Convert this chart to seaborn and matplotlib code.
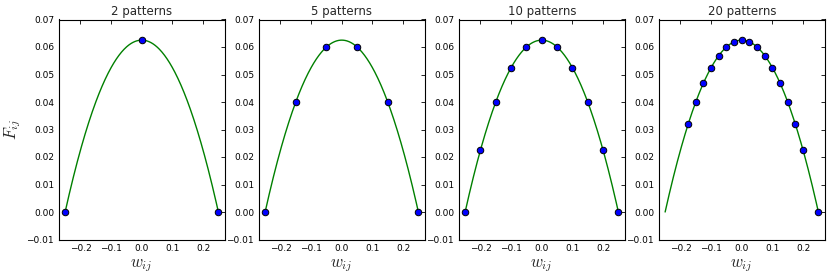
import numpy as np
import pandas as pd
import matplotlib
matplotlib.use("Agg")
import matplotlib.pyplot as plt
import seaborn as sns

titles = ["2 patterns", "5 patterns", "10 patterns", "20 patterns"]

w_2 = [-0.25, 0.0, 0.25]
f_2 = [0.0, 0.0625, 0.0]

w_5 = [-0.25, -0.15, -0.05, 0.05, 0.15, 0.25]
f_5 = [0.0, 0.04, 0.06, 0.06, 0.04, 0.0]

w_10 = [-0.25, -0.2, -0.15, -0.1, -0.05, 0.0, 0.05, 0.1, 0.15, 0.2, 0.25]
f_10 = [0.0, 0.0225, 0.04, 0.0525, 0.06, 0.0625, 0.06, 0.0525, 0.04, 0.0225, 0.0]

w_20 = [-0.175, -0.15, -0.125, -0.1, -0.075, -0.05, -0.025, 0.0, 0.025, 0.05,
        0.075, 0.1, 0.125, 0.15, 0.175, 0.2, 0.25]
f_20 = [0.0319, 0.04, 0.0469, 0.0525, 0.0569, 0.06, 0.0619, 0.0625, 0.0619, 0.06,
        0.0569, 0.0525, 0.0469, 0.04, 0.0319, 0.0225, 0.0]

# parabola coefficients of the fitted curve (highest power first), and its range
curve_coeffs = [-1.0, 0.0, 0.0625]
curve_range = [-0.25, 0.25]

x_ticks = [-0.2, -0.1, 0.0, 0.1, 0.2]
y_ticks = [-0.01, 0.0, 0.01, 0.02, 0.03, 0.04, 0.05, 0.06, 0.07]

sns.set_style("white")
plt.rcParams["font.family"] = ["DejaVu Sans"]
plt.rcParams["mathtext.fontset"] = "cm"

fig = plt.figure(figsize=(8.31, 2.78), dpi=100)
lefts = [59.0, 259.0, 459.0, 659.0]
W, H = 831.0, 278.0
panel_w, top, bottom = 165.5, 19.5, 239.5

points = [(w_2, f_2), (w_5, f_5), (w_10, f_10), (w_20, f_20)]
cx = np.linspace(curve_range[0], curve_range[1], 300)
cy = np.polyval(curve_coeffs, cx)
curve_df = pd.DataFrame({"w": cx, "F": cy})

for i, (title, (wv, fv)) in enumerate(zip(titles, points)):
    ax = fig.add_axes([lefts[i] / W, (H - bottom) / H, panel_w / W, (bottom - top) / H])
    sns.lineplot(data=curve_df, x="w", y="F", ax=ax, color=(0, 0.5, 0), lw=1.0, sort=False)
    pdf = pd.DataFrame({"w": wv, "F": fv})
    sns.scatterplot(data=pdf, x="w", y="F", ax=ax, color=(0, 0, 1), edgecolor="black",
                    linewidth=0.7, s=22, zorder=3)
    ax.set_xlim(-0.27, 0.27)
    ax.set_ylim(-0.01, 0.07)
    ax.set_xticks(x_ticks)
    ax.set_yticks(y_ticks)
    ax.set_xticklabels([f"{t:.1f}".replace("-", "\u2212") for t in x_ticks], fontsize=6.5)
    ax.set_yticklabels([f"{t:.2f}".replace("-", "\u2212") for t in y_ticks], fontsize=6.5)
    ax.tick_params(direction="in", top=True, right=True, length=3, width=0.6,
                   pad=3.5, color="black", labelcolor="black")
    for sp in ax.spines.values():
        sp.set_color("black")
        sp.set_linewidth(0.8)
    ax.set_title(title, fontsize=8.5, pad=3)
    ax.set_xlabel(r"$w_{ij}$", fontsize=12, labelpad=2)
    if i == 0:
        ax.set_ylabel(r"$F_{ij}$", fontsize=12, labelpad=2.5)
    else:
        ax.set_ylabel("")

fig.savefig("out.png", dpi=100, facecolor="white")
